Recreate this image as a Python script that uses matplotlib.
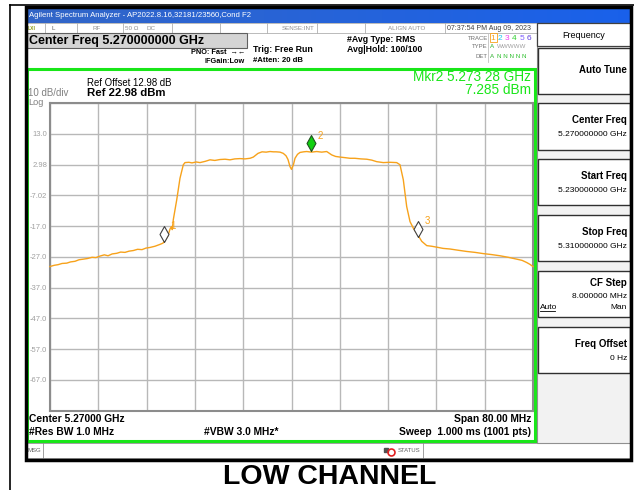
import matplotlib.pyplot as plt
import numpy as np

plt.rcParams['font.family'] = ['Liberation Sans', 'DejaVu Sans']

# sweep settings (GHz) and display scale (dBm)
start_ghz = 5.230
stop_ghz = 5.310
ref_level = 22.98
db_div = 10

# trace: offset from start freq (MHz), level (dBm)
freq_mhz = [0.0, 0.7, 1.33, 2.0, 2.77, 3.4, 4.14, 4.8, 5.52, 6.2, 6.96, 7.6, 8.28,
            9.0, 9.61, 10.3, 11.05, 11.7, 12.42, 13.1, 13.8, 14.5, 15.24, 15.9,
            16.56, 17.39, 18.22, 18.7, 19.05, 19.54, 19.88, 20.12, 20.25, 20.42,
            20.99, 21.53, 22.08, 22.36, 23.0, 23.52, 24.2, 24.84, 25.7, 26.5,
            27.3, 28.16, 29.0, 29.81, 30.6, 31.47, 32.3, 33.13, 33.68, 34.45,
            35.12, 35.8, 36.44, 37.0, 37.44, 38.1, 38.64, 39.1, 39.42, 39.75,
            40.0, 40.33, 40.58, 41.0, 41.41, 42.0, 42.52, 43.3, 44.17, 45.0,
            45.83, 46.66, 47.3, 48.03, 48.9, 49.69, 50.5, 51.5, 52.45, 53.3,
            54.11, 55.21, 56.3, 57.42, 57.97, 58.52, 59.08, 59.63, 60.2, 60.74,
            61.57, 62.4, 63.2, 64.05, 65.1, 66.25, 67.6, 69.02, 70.4, 71.77,
            73.1, 74.53, 75.9, 77.3, 78.2, 78.96, 79.5, 80.0]
level_dbm = [-30.2, -29.8, -29.6, -29.2, -29.1, -28.7, -28.5, -28.0, -27.8, -27.6,
             -27.2, -27.3, -26.8, -26.4, -26.7, -26.1, -25.9, -25.5, -25.6, -25.2,
             -25.0, -24.6, -24.7, -24.2, -24.0, -23.6, -23.0, -22.6, -21.8, -20.2,
             -18.0, -17.2, -18.2, -15.0, -8.5, -1.5, 2.9, 3.6, 3.7, 3.5, 3.8, 3.6,
             4.0, 4.5, 4.3, 4.6, 4.7, 4.5, 4.8, 4.9, 4.8, 5.0, 5.4, 6.6, 7.1, 7.0,
             7.2, 7.1, 7.1, 7.0, 6.6, 5.8, 4.6, 2.3, 1.4, 3.0, 5.0, 6.3, 6.9, 7.1,
             7.2, 7.0, 7.2, 7.0, 7.2, 6.1, 5.6, 5.4, 5.2, 5.0, 5.0, 4.8, 4.7, 4.4,
             3.9, 3.6, 3.7, 3.6, 2.9, -2.0, -10.7, -15.6, -17.8, -19.3, -22.0,
             -23.4, -23.6, -23.9, -24.3, -24.5, -24.9, -25.3, -25.6, -26.0, -26.3,
             -26.7, -27.2, -27.8, -28.2, -28.9, -29.5, -30.2]

# markers
mkr_names = ['1', '2', '3']
mkr_mhz = [18.96, 43.28, 61.03]
mkr_dbm = [-22.1, 7.285, -20.5]

ytick_labels = ['', '13.0', '2.98', '-7.02', '-17.0', '-27.0', '-37.0',
                '-47.0', '-57.0', '-67.0', '']

softkeys = [('Auto Tune', ''), ('Center Freq', '5.270000000 GHz'),
            ('Start Freq', '5.230000000 GHz'), ('Stop Freq', '5.310000000 GHz'),
            ('CF Step', '8.000000 MHz'), ('Freq Offset', '0 Hz')]
softkey_y = [(48, 94), (103, 150), (159, 205), (215, 261), (271, 317), (327, 373)]

W, H = 634, 490
ORANGE = '#f7a21b'
GREEN = '#19e619'

fig = plt.figure(figsize=(W / 100, H / 100), dpi=100)
bg = fig.add_axes([0, 0, 1, 1])
bg.set_xlim(0, W)
bg.set_ylim(H, 0)
bg.axis('off')


def box(x0, y0, x1, y1, fc='none', ec='none', lw=1.0, z=1):
    bg.add_patch(plt.Rectangle((x0, y0), x1 - x0, y1 - y0, fc=fc, ec=ec, lw=lw, zorder=z))


def txt(x, y, s, size=6, ha='left', color='black', weight='normal', **kw):
    kw.setdefault('va', 'center')
    bg.text(x, y, s, fontsize=size, ha=ha, color=color,
            fontweight=weight, zorder=5, **kw)


# report frame lines
bg.plot([10, 10], [5, H], color='black', lw=1.2)
bg.plot([10, W], [5, 5], color='black', lw=1.2)

# title bar
grad = np.linspace(0, 1, 256).reshape(1, -1)
c0 = np.array([0.20, 0.40, 0.78])
c1 = np.array([0.10, 0.38, 0.92])
img = c0[None, None, :] * (1 - grad[..., None]) + c1[None, None, :] * grad[..., None]
bg.imshow(img, extent=(26, 631, 23, 8), aspect='auto', zorder=1)
bg.set_xlim(0, W)
bg.set_ylim(H, 0)
txt(29, 15.5, 'Agilent Spectrum Analyzer - AP2022.8.16,32181/23560,Cond F2',
    size=5.6, color='white')

# status row
box(26, 23, 537, 33, fc='white', ec='#b0b0b0', lw=0.6)
for sx in [45, 77, 123, 172, 220, 267, 317, 365, 445]:
    bg.plot([sx, sx], [23, 33], color='#b0b0b0', lw=0.6, zorder=2)
txt(28, 28, 'LXI', size=3.6, color='#8a9a10', weight='bold')
txt(52, 28, 'L', size=4.5, color='#606060')
txt(97, 28, 'RF', size=4.5, color='#909090', ha='center')
txt(132, 28, '50 Ω', size=4.5, color='#909090', ha='center')
txt(151, 28, 'DC', size=4.5, color='#909090', ha='center')
txt(315, 28, 'SENSE:INT', size=4.5, color='#909090', ha='right')
txt(407, 28, 'ALIGN AUTO', size=4.5, color='#909090', ha='center')
txt(447, 28, '07:37:54 PM Aug 09, 2023', size=5.0, color='#404040')

# header
box(26.5, 33.5, 247, 48, fc='#d4d4d4', ec='#606060', lw=0.8, z=2)
txt(29, 41, 'Center Freq 5.270000000 GHz', size=9, weight='bold')
txt(245, 52.5, 'PNO: Fast  →←', size=5.3, ha='right', weight='bold')
txt(245, 61.5, 'IFGain:Low', size=5.3, ha='right', weight='bold')
txt(253, 49, 'Trig: Free Run', size=6.3, weight='bold')
txt(253, 60, '#Atten: 20 dB', size=5.6, weight='bold')
txt(347, 39, '#Avg Type: RMS', size=6.3, weight='bold')
txt(347, 49, 'Avg|Hold: 100/100', size=6.3, weight='bold')
txt(488, 38, 'TRACE', size=4.3, ha='right', color='#707070')
txt(488, 47, 'TYPE', size=4.3, ha='right', color='#707070')
txt(488, 56, 'DET', size=4.3, ha='right', color='#707070')
trace_cols = [ORANGE, '#20c8f0', '#f040f0', '#30d030', '#8060ff', '#6040e0']
for i, c in enumerate(trace_cols):
    txt(493 + i * 7.2, 38, str(i + 1), size=6, color=c, ha='center')
box(489.5, 33.5, 496.5, 42.5, ec=ORANGE, lw=0.6, z=4)
txt(490, 47, 'A', size=4.5, color='#30b030')
txt(497, 47, 'WWWWW', size=4.5, color='#a0a0a0')
txt(490, 56, 'A', size=4.5, color='#30b030')
txt(497, 56, 'N N N N N', size=4.5, color='#30c030')
bg.plot([488, 488], [33, 62], color='#c0c0c0', lw=0.6)

# graph window
box(27, 69, 534.5, 441, fc='white', ec=GREEN, lw=2.2, z=2)
txt(87, 82.5, 'Ref Offset 12.98 dB', size=6.9)
txt(87, 93.5, 'Ref 22.98 dBm', size=8.2, weight='bold')
txt(28, 93, '10 dB/div', size=7, color='#808080')
txt(28, 102.5, 'Log', size=6.6, color='#808080')
txt(531, 77, 'Mkr2 5.273 28 GHz', size=9.8, ha='right', color=GREEN)
txt(531, 90, '7.285 dBm', size=9.8, ha='right', color=GREEN)
txt(29, 419, 'Center 5.27000 GHz', size=7.4, weight='bold')
txt(531, 419, 'Span 80.00 MHz', size=7.4, ha='right', weight='bold')
txt(29, 432, '#Res BW 1.0 MHz', size=7.4, weight='bold')
txt(204, 432, '#VBW 3.0 MHz*', size=7.4, weight='bold')
txt(531, 432, 'Sweep  1.000 ms (1001 pts)', size=7.4, ha='right', weight='bold')

# message bar
box(26, 443, 631, 458, fc='white', ec='#909090', lw=0.6, z=2)
for sx in [43, 423]:
    bg.plot([sx, sx], [443, 458], color='#909090', lw=0.6, zorder=3)
txt(28, 450.5, 'MSG', size=4.3, color='#606060')
bg.plot(386, 450, marker='s', ms=3.5, color='#505050', zorder=6)
bg.plot(391, 452, marker='o', ms=5, mfc='none', mec='#e02020', mew=1.2, zorder=6)
txt(398, 450.5, 'STATUS', size=4.3, color='#606060')

# softkey panel
box(537, 23, 630.5, 443, fc='#f2f2f2', ec='#909090', lw=0.8, z=2)
box(537, 23, 630.5, 46, fc='white', ec='#404040', lw=0.9, z=3)
txt(583.5, 35, 'Frequency', size=6.5, ha='center')
for (k, v), (y0, y1) in zip(softkeys, softkey_y):
    box(537.5, y0, 630, y1, fc='white', ec='#303030', lw=1.0, z=3)
    if not v:
        txt(627, (y0 + y1) / 2 - 1, k, size=7, ha='right', weight='bold')
    elif k == 'CF Step':
        txt(627, y0 + 12, k, size=7, ha='right', weight='bold')
        txt(627, y0 + 25, v, size=6, ha='right')
    else:
        txt(627, y0 + 16.5, k, size=7, ha='right', weight='bold')
        txt(627, y0 + 31, v, size=6, ha='right')
txt(540, 307, 'Auto', size=6, color='black')
bg.plot([540, 555], [311, 311], color='black', lw=0.6, zorder=6)
txt(627, 307, 'Man', size=6, ha='right')

# screenshot border
box(25.5, 7.5, 631, 459.5, ec='black', lw=2.5, z=6)

txt(330, 484, 'LOW CHANNEL', size=20.5, ha='center', weight='bold', va='baseline')

# the trace display
ax = fig.add_axes([50 / W, 1 - 410.5 / H, 483 / W, 307.5 / H])
ax.set_zorder(3)
ax.set_facecolor('white')
span = (stop_ghz - start_ghz) * 1000
ax.set_xlim(0, span)
ax.set_ylim(ref_level - 10 * db_div, ref_level)
ax.set_xticks(np.linspace(0, span, 11))
ax.set_xticklabels([])
yt = [ref_level - i * db_div for i in range(11)]
ax.set_yticks(yt)
ax.set_yticklabels(ytick_labels)
ax.tick_params(length=0, pad=2, labelsize=5.5, labelcolor='#a0a0a0')
ax.grid(color='#b8b8b8', lw=1.0)
for s in ax.spines.values():
    s.set_color('#8c8c8c')
    s.set_linewidth(1.5)
ax.plot(freq_mhz, level_dbm, color=ORANGE, lw=1.0, clip_on=False, zorder=3)

diamond = [(0, 0), (0.56, 1), (0, 2), (-0.56, 1), (0, 0)]
for n, f, l in zip(mkr_names, mkr_mhz, mkr_dbm):
    fc = '#10d010' if n == '2' else 'white'
    ec = '#205020' if n == '2' else '#404040'
    ax.plot(f, l, marker=diamond, ms=23, mfc=fc, mec=ec, mew=0.8, zorder=5)
    ax.annotate(n, (f, l), xytext=(4.5, 11), textcoords='offset points',
                fontsize=7, color=ORANGE, va='center', zorder=6)

fig.savefig('out.png', dpi=100)
